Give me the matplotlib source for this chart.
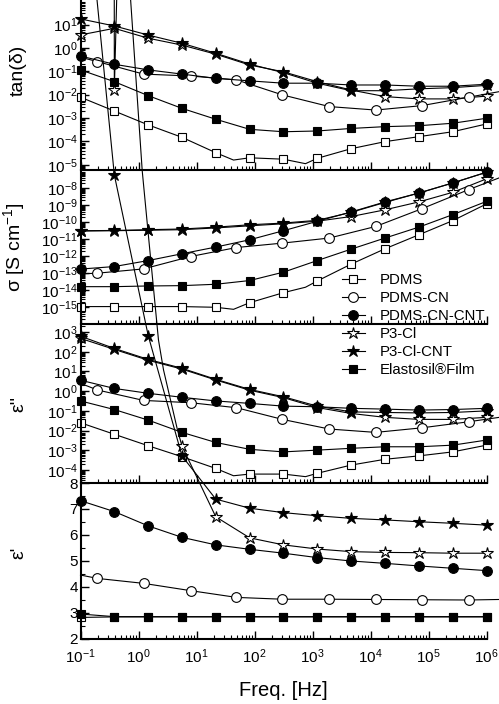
import numpy as np
import matplotlib
matplotlib.use('Agg')
import matplotlib.pyplot as plt
from matplotlib.lines import Line2D
from matplotlib.ticker import (LogLocator, NullFormatter, FixedLocator, MultipleLocator,
                               LogFormatterSciNotation)

plt.rcParams.update({
    'font.family': ['Liberation Sans', 'DejaVu Sans'],
    'mathtext.fontset': 'custom',
    'mathtext.rm': 'Liberation Sans',
    'mathtext.it': 'Liberation Sans:italic',
    'mathtext.bf': 'Liberation Sans:bold',
    'axes.unicode_minus': False,
})

# ---------------- data ----------------
F = [0.1, 0.383, 1.47, 5.62, 21.5, 82.5, 316, 1210, 4640, 17800, 68100, 261000, 1.0e6]
F_CN = [0.1, 0.196, 1.22, 7.9, 48.9, 303, 1950, 12300, 76600, 490000, 1660000]
F_DIP = [0.1, 0.383, 1.47, 5.62, 21.5, 43.5, 82.5, 316, 757, 1210, 4640, 17800, 68100, 261000, 1.0e6]
F_P3CL_EPS = [0.1, 0.383, 0.49, 1.16, 1.47, 2.21, 2.70, 4.70, 5.62, 21.5, 82.5, 316, 1210,
              4640, 17800, 68100, 261000, 1.0e6]

labels = ['PDMS', 'PDMS-CN', 'PDMS-CN-CNT', 'P3-Cl', 'P3-Cl-CNT', 'Elastosil®Film']

# tan(delta)
tan_pdms = [7.8e-3, 2.0e-3, 5.1e-4, 1.5e-4, 3.3e-5, 1.6e-5, 2.0e-5, 1.74e-5, 1.12e-5, 1.9e-5,
            4.9e-5, 9.8e-5, 1.6e-4, 2.6e-4, 5.6e-4]
tan_cn = [0.40, 0.26, 0.076, 0.063, 0.043, 0.0098, 0.0031, 0.0022, 0.0034, 0.0078, 0.0135]
tan_cncnt = [0.45, 0.20, 0.115, 0.076, 0.050, 0.039, 0.031, 0.031, 0.026, 0.026, 0.023, 0.023, 0.028]
tan_p3cl = [3.6, 6.9, 2.6, 1.32, 0.54, 0.186, 0.095, 0.036, 0.0158, 0.0083, 0.0066, 0.0066, 0.0087]
tan_p3clcnt = [17.4, 8.7, 3.55, 1.58, 0.59, 0.204, 0.087, 0.031, 0.0148, 0.0148, 0.0178, 0.020, 0.025]
tan_elast = [0.115, 0.036, 9.1e-3, 2.6e-3, 8.9e-4, 3.3e-4, 2.6e-4, 2.8e-4, 3.6e-4, 4.3e-4,
             4.7e-4, 6.0e-4, 9.8e-4]

# conductivity sigma [S/cm]
sig_pdms = [1.1e-15, 1.1e-15, 1.1e-15, 1.1e-15, 1.0e-15, 7.6e-16, 1.86e-15, 7.2e-15, 1.5e-14,
            3.5e-14, 3.4e-13, 2.7e-12, 1.78e-11, 1.2e-10, 1.15e-9]
sig_cn = [9.1e-14, 1.0e-13, 1.78e-13, 9.5e-13, 3.2e-12, 5.8e-12, 1.15e-11, 5.5e-11, 6.0e-10,
          7.9e-9, 3.9e-8]
sig_cncnt = [1.74e-13, 2.45e-13, 5.5e-13, 1.38e-12, 3.4e-12, 9.1e-12, 3.1e-11, 1.1e-10, 3.9e-10,
             1.51e-9, 5.0e-9, 1.95e-8, 8.3e-8]
sig_p3cl = [2.95e-11, 3.1e-11, 3.3e-11, 3.55e-11, 4.5e-11, 6.0e-11, 7.9e-11, 1.12e-10, 2.1e-10,
            5.2e-10, 1.51e-9, 5.5e-9, 3.4e-8]
sig_p3clcnt = [3.1e-11, 3.2e-11, 3.55e-11, 3.9e-11, 5.0e-11, 6.9e-11, 8.7e-11, 1.26e-10, 3.7e-10,
               1.41e-9, 5.0e-9, 1.95e-8, 8.3e-8]
sig_elast = [1.62e-14, 1.62e-14, 1.78e-14, 1.86e-14, 2.24e-14, 3.7e-14, 1.15e-13, 5.5e-13,
             2.57e-12, 1.15e-11, 5.0e-11, 2.7e-10, 1.62e-9]

# epsilon''
epp_pdms = [2.5e-2, 6.5e-3, 1.7e-3, 4.7e-4, 1.2e-4, 5.1e-5, 6.2e-5, 6.2e-5, 4.6e-5, 6.8e-5,
            1.78e-4, 3.5e-4, 5.2e-4, 8.3e-4, 1.82e-3]
epp_cn = [2.5, 1.15, 0.34, 0.26, 0.145, 0.037, 0.012, 8.1e-3, 0.0138, 0.028, 0.047]
epp_cncnt = [3.6, 1.38, 0.78, 0.49, 0.32, 0.24, 0.174, 0.162, 0.135, 0.123, 0.110, 0.117, 0.135]
epp_p3cl = [479, 132, 37, 13.2, 3.7, 1.12, 0.47, 0.148, 0.074, 0.047, 0.037, 0.037, 0.047]
epp_p3clcnt = [617, 148, 41, 14.5, 4.0, 1.23, 0.52, 0.174, 0.089, 0.083, 0.079, 0.083, 0.100]
epp_elast = [0.32, 0.117, 0.034, 8.1e-3, 2.5e-3, 1.12e-3, 8.3e-4, 1.02e-3, 1.26e-3, 1.51e-3,
             1.51e-3, 1.82e-3, 3.3e-3]

# epsilon'
ep_pdms = [2.83, 2.85, 2.85, 2.85, 2.85, 2.85, 2.85, 2.85, 2.85, 2.85, 2.85, 2.85, 2.85]
ep_cn = [4.46, 4.33, 4.14, 3.86, 3.60, 3.53, 3.53, 3.52, 3.51, 3.50, 3.52]
ep_cncnt = [7.32, 6.90, 6.35, 5.91, 5.62, 5.45, 5.30, 5.13, 5.00, 4.91, 4.81, 4.72, 4.63]
ep_p3cl = [2000, 23.1, 32.3, 20.0, 17.6, 13.5, 12.35, 10.04, 9.42, 6.70, 5.89, 5.62, 5.46, 5.36,
           5.33, 5.32, 5.30, 5.30]
ep_p3clcnt = [33, 19.85, 13.67, 9.04, 7.38, 7.03, 6.86, 6.74, 6.64, 6.58, 6.51, 6.45, 6.38]
ep_elast = [2.96, 2.86, 2.86, 2.86, 2.86, 2.86, 2.86, 2.86, 2.86, 2.86, 2.86, 2.86, 2.86]

# ---------------- styles ----------------
STYLE = {
    'PDMS': dict(marker='s', mfc='white', ms=6.2),
    'PDMS-CN': dict(marker='o', mfc='white', ms=7.0),
    'PDMS-CN-CNT': dict(marker='o', mfc='black', ms=7.0),
    'P3-Cl': dict(marker='*', mfc='white', ms=9.0),
    'P3-Cl-CNT': dict(marker='*', mfc='black', ms=9.0),
    'Elastosil®Film': dict(marker='s', mfc='black', ms=6.2),
}
PDMS_MARKS = [0, 1, 2, 3, 4, 6, 7, 9, 10, 11, 12, 13, 14]
CN_MARKS = list(range(1, 10))
P3CL_EPS_MARKS = [1] + list(range(8, 18))


def draw(ax, f, v, key, marks=None):
    st = STYLE[key]
    ax.plot(f, v, color='black', lw=0.8, mec='black', mew=0.8, markevery=marks,
            clip_on=False, **st)


fig = plt.figure(figsize=(4.99, 7.04), dpi=100)
L, W = 80.5 / 499, 406 / 499


def rect(top_px, bot_px):
    return [L, 1 - bot_px / 704, W, (bot_px - top_px) / 704]


ax_tan = fig.add_axes(rect(0, 169.5))
ax_sig = fig.add_axes(rect(169.5, 324))
ax_epp = fig.add_axes(rect(324, 483))
ax_ep = fig.add_axes(rect(483, 639))

panels = [
    (ax_tan, dict(p3cl=(F, tan_p3cl, None), p3clcnt=(F, tan_p3clcnt, None), cn=(F_CN, tan_cn, CN_MARKS),
                  cncnt=(F, tan_cncnt, None), pdms=(F_DIP, tan_pdms, PDMS_MARKS), elast=(F, tan_elast, None))),
    (ax_sig, dict(p3cl=(F, sig_p3cl, None), p3clcnt=(F, sig_p3clcnt, None), cn=(F_CN, sig_cn, CN_MARKS),
                  cncnt=(F, sig_cncnt, None), pdms=(F_DIP, sig_pdms, PDMS_MARKS), elast=(F, sig_elast, None))),
    (ax_epp, dict(p3cl=(F, epp_p3cl, None), p3clcnt=(F, epp_p3clcnt, None), cn=(F_CN, epp_cn, CN_MARKS),
                  cncnt=(F, epp_cncnt, None), pdms=(F_DIP, epp_pdms, PDMS_MARKS), elast=(F, epp_elast, None))),
    (ax_ep, dict(p3cl=(F_P3CL_EPS, ep_p3cl, P3CL_EPS_MARKS), p3clcnt=(F, ep_p3clcnt, None),
                 cn=(F_CN, ep_cn, CN_MARKS), cncnt=(F, ep_cncnt, None), pdms=(F, ep_pdms, None),
                 elast=(F, ep_elast, None))),
]
keymap = [('p3cl', 'P3-Cl'), ('p3clcnt', 'P3-Cl-CNT'), ('cn', 'PDMS-CN'), ('pdms', 'PDMS'),
          ('elast', 'Elastosil®Film'), ('cncnt', 'PDMS-CN-CNT')]

for ax, d in panels:
    for k, name in keymap:
        f, v, m = d[k]
        draw(ax, f, v, name, m)

ylims = {ax_tan: (10 ** -5.2, 10 ** 2.05), ax_sig: (10 ** -15.98, 10 ** -6.92),
         ax_epp: (10 ** -4.66, 10 ** 3.41)}
yticks = {ax_tan: [10.0 ** e for e in range(-5, 2)], ax_sig: [10.0 ** e for e in range(-15, -7)],
          ax_epp: [10.0 ** e for e in range(-4, 4)]}

xt = [10.0 ** e for e in range(-1, 7)]
for ax in [ax_tan, ax_sig, ax_epp, ax_ep]:
    ax.set_xscale('log')
    ax.set_xlim(0.1, 1e6)
    ax.xaxis.set_major_locator(FixedLocator(xt))
    ax.xaxis.set_minor_locator(LogLocator(base=10, subs=np.arange(2, 10), numticks=100))
    ax.xaxis.set_minor_formatter(NullFormatter())
    for s in ['top', 'right']:
        ax.spines[s].set_visible(False)
    for s in ['left', 'bottom']:
        ax.spines[s].set_linewidth(1.5)
    ax.tick_params(which='major', direction='in', length=6, width=1.0, labelsize=11, pad=2,
                   top=False, right=False)
    ax.tick_params(which='minor', direction='in', length=3, width=0.8, top=False, right=False)
    ax.tick_params(axis='x', which='major', pad=6)
    ax.patch.set_alpha(0)
    if ax is not ax_ep:
        ax.set_yscale('log')
        ax.set_ylim(*ylims[ax])
        ax.yaxis.set_major_locator(FixedLocator(yticks[ax]))
        ax.yaxis.set_minor_locator(LogLocator(base=10, subs=np.arange(2, 10), numticks=100))
        ax.yaxis.set_minor_formatter(NullFormatter())
        ax.yaxis.set_major_formatter(LogFormatterSciNotation())
        ax.tick_params(axis='x', labelbottom=False)

ax_ep.xaxis.set_major_formatter(LogFormatterSciNotation())
ax_ep.set_ylim(2, 8)
ax_ep.yaxis.set_major_locator(MultipleLocator(1))
ax_ep.yaxis.set_minor_locator(MultipleLocator(0.5))

lab_x = (27 - 80.5) / 406
ax_tan.set_ylabel('tan(δ)', fontsize=14)
ax_tan.yaxis.set_label_coords(lab_x, (169.5 - 70) / 169.5)
ax_sig.set_ylabel('σ [S cm$^{-1}$]', fontsize=14)
ax_sig.yaxis.set_label_coords(lab_x, 0.5)
ax_epp.set_ylabel("ε''", fontsize=14)
ax_epp.yaxis.set_label_coords(lab_x, 0.5)
ax_ep.set_ylabel("ε'", fontsize=14)
ax_ep.yaxis.set_label_coords(lab_x, (639 - 553) / 156)
ax_ep.set_xlabel('Freq. [Hz]', fontsize=14.5, labelpad=11)

handles = [Line2D([], [], color='black', lw=0.8, mec='black', mew=0.8, **STYLE[n]) for n in labels]
fig.legend(handles, labels, loc='upper left', bbox_to_anchor=(341.5 / 499, 1 - 273.5 / 704),
           frameon=False, fontsize=10.8, handlelength=1.55, handletextpad=1.0, labelspacing=0.26,
           borderpad=0, borderaxespad=0)

fig.savefig('out.png', dpi=100)
